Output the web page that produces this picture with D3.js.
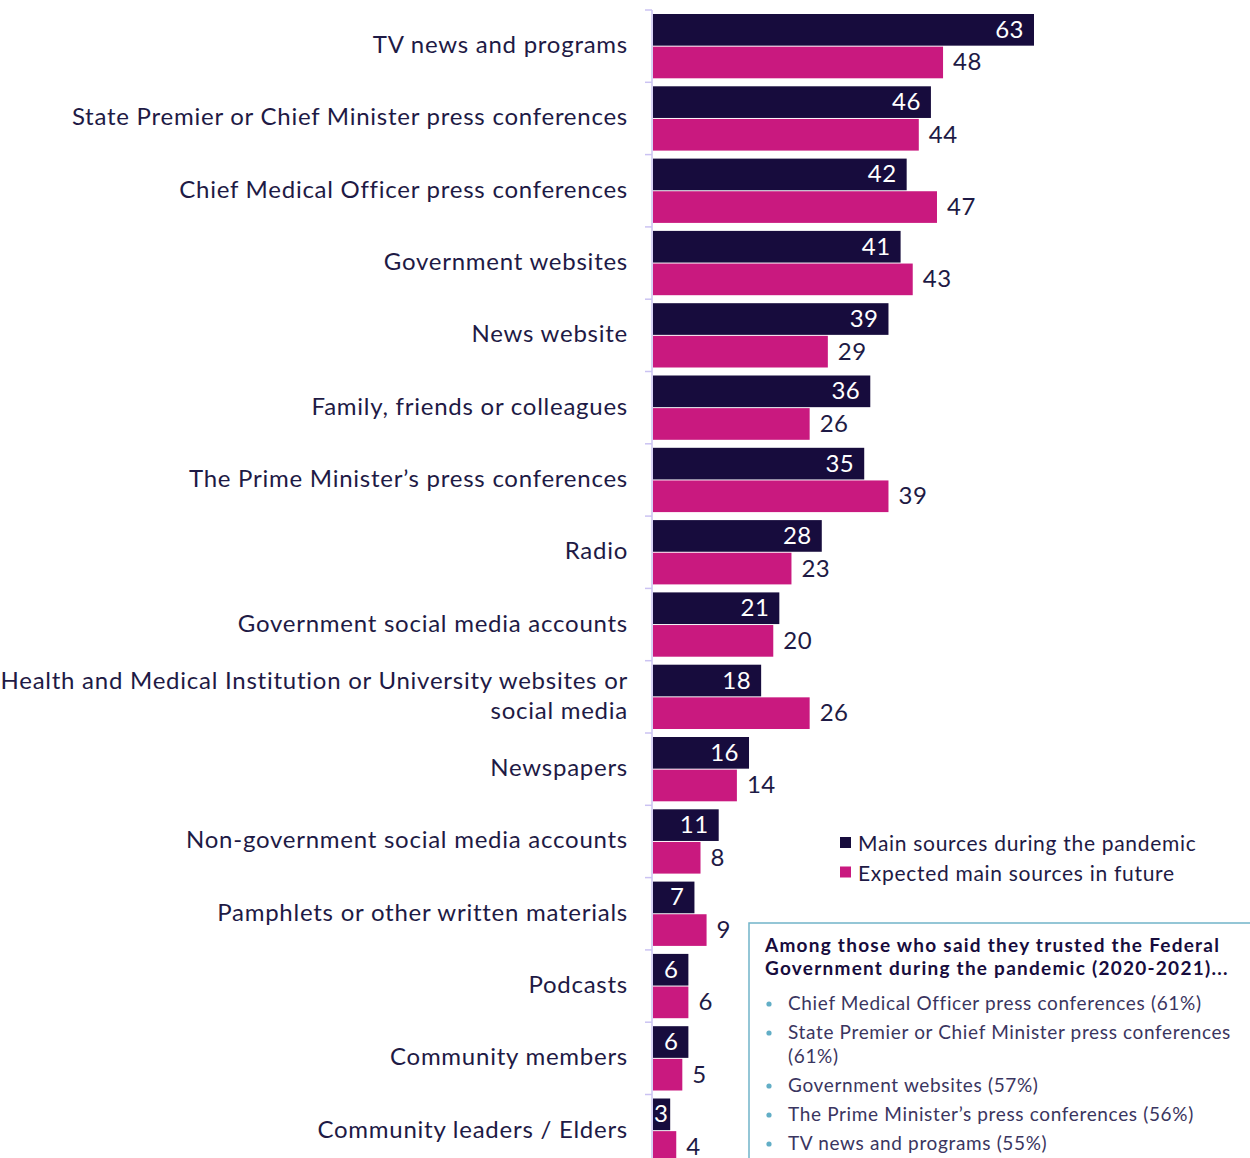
<!DOCTYPE html>
<html>
<head>
    <meta charset="utf-8">
    <title>Main sources of information</title>
    <script type="text/javascript" src="https://cdn.jsdelivr.net/npm/d3@7/dist/d3.min.js"></script>
    <style type="text/css">
        html, body { margin: 0; background: #fff; }
        svg { display: block; font-family: Lato, "Open Sans", sans-serif; }
    </style>
</head>
<body>
<script type="text/javascript">
    // data
    var categories = [
        ["TV news and programs"],
        ["State Premier or Chief Minister press conferences"],
        ["Chief Medical Officer press conferences"],
        ["Government websites"],
        ["News website"],
        ["Family, friends or colleagues"],
        ["The Prime Minister\u2019s press conferences"],
        ["Radio"],
        ["Government social media accounts"],
        ["Health and Medical Institution or University websites or", "social media"],
        ["Newspapers"],
        ["Non-government social media accounts"],
        ["Pamphlets or other written materials"],
        ["Podcasts"],
        ["Community members"],
        ["Community leaders / Elders"]
    ];
    var duringPandemic = [63, 46, 42, 41, 39, 36, 35, 28, 21, 18, 16, 11, 7, 6, 6, 3];
    var expectedFuture = [48, 44, 47, 43, 29, 26, 39, 23, 20, 26, 14, 8, 9, 6, 5, 4];
    var seriesNames = ["Main sources during the pandemic", "Expected main sources in future"];
    var boxTitle = ["Among those who said they trusted the Federal", "Government during the pandemic (2020-2021)..."];
    var boxItems = [
        ["Chief Medical Officer press conferences (61%)"],
        ["State Premier or Chief Minister press conferences", "(61%)"],
        ["Government websites (57%)"],
        ["The Prime Minister\u2019s press conferences (56%)"],
        ["TV news and programs (55%)"]
    ];

    var W = 1250, H = 1158;
    var dark = "#170c3d", pink = "#c9197f", ink = "#1e1a45";
    var axisX = 652, rowH = 72.3, chartTop = 10;

    var svg = d3.select("body").append("svg").attr("width", W).attr("height", H);

    var rows = categories.map(function (c, i) {
        return {label: c, vals: [duringPandemic[i], expectedFuture[i]], i: i};
    });

    var y = d3.scaleBand().domain(d3.range(categories.length))
        .range([chartTop, chartTop + rowH * categories.length]).paddingInner(0).paddingOuter(0);
    var ySub = d3.scaleBand().domain([0, 1]).range([4, rowH - 4]).paddingInner(0.03);
    var x = d3.scaleLinear().domain([0, 63]).range([axisX, 1034]);

    // axis line with group ticks
    var axis = svg.append("g").attr("transform", "translate(" + axisX + ",0)");
    axis.append("line").attr("x1", 0).attr("x2", 0).attr("y1", chartTop).attr("y2", H)
        .attr("stroke", "#cbc3f2").attr("stroke-width", 1.5);
    axis.selectAll("line.tk").data(d3.range(categories.length + 1)).enter().append("line")
        .attr("class", "tk")
        .attr("x1", -7).attr("x2", 0)
        .attr("y1", function (d) { return chartTop + d * rowH; })
        .attr("y2", function (d) { return chartTop + d * rowH; })
        .attr("stroke", "#cbc3f2").attr("stroke-width", 1.5);

    var g = svg.selectAll("g.row").data(rows).enter().append("g")
        .attr("class", "row")
        .attr("transform", function (d) { return "translate(0," + y(d.i) + ")"; });

    // category labels
    g.append("text")
        .attr("text-anchor", "end")
        .attr("fill", ink)
        .attr("font-size", 24)
        .attr("letter-spacing", 0.75)
        .each(function (d) {
            var t = d3.select(this), n = d.label.length;
            d.label.forEach(function (s, k) {
                t.append("tspan").attr("x", 628)
                    .attr("y", y.bandwidth() / 2 + (k - (n - 1) / 2) * 30 + 7)
                    .text(s);
            });
        });

    // bars
    g.selectAll("rect").data(function (d) { return d.vals; }).enter().append("rect")
        .attr("x", axisX + 1)
        .attr("y", function (d, k) { return ySub(k); })
        .attr("width", function (d) { return x(d) - axisX - 1; })
        .attr("height", ySub.bandwidth())
        .attr("fill", function (d, k) { return k === 0 ? dark : pink; });

    // value labels (dark bars: inside, right aligned; narrow bars: from the bar start)
    g.selectAll("text.val").data(function (d) { return d.vals; }).enter().append("text")
        .attr("class", "val")
        .attr("font-size", 24)
        .attr("letter-spacing", 0.5)
        .attr("x", function (d, k) {
            if (k === 1) return x(d) + 10;
            return x(d) - axisX < 30 ? axisX + 2 : x(d) - 10;
        })
        .attr("y", function (d, k) { return ySub(k) + ySub.bandwidth() / 2 + 8; })
        .attr("text-anchor", function (d, k) {
            return k === 0 && x(d) - axisX >= 30 ? "end" : "start";
        })
        .attr("fill", function (d, k) { return k === 0 ? "#fff" : ink; })
        .text(function (d) { return d; });

    // legend
    var leg = svg.append("g").attr("transform", "translate(840,843)");
    leg.selectAll("g").data(seriesNames).enter().append("g")
        .attr("transform", function (d, i) { return "translate(0," + i * 29.5 + ")"; })
        .each(function (d, i) {
            var s = d3.select(this);
            s.append("rect").attr("x", 0).attr("y", -6).attr("width", 11).attr("height", 11)
                .attr("fill", i === 0 ? dark : pink);
            s.append("text").attr("x", 18).attr("y", 8).attr("font-size", 21)
                .attr("letter-spacing", 0.7)
                .attr("fill", ink).text(d);
        });

    // note box
    var box = svg.append("g").attr("transform", "translate(749,923)");
    box.append("rect").attr("x", 0).attr("y", 0).attr("width", 520).attr("height", 260)
        .attr("fill", "#fff").attr("stroke", "#72b4c9").attr("stroke-width", 1.5);
    box.selectAll("text.ttl").data(boxTitle).enter().append("text")
        .attr("class", "ttl")
        .attr("x", 16).attr("y", function (d, i) { return 29 + i * 23; })
        .attr("font-size", 19).attr("font-weight", "bold").attr("fill", dark)
        .attr("letter-spacing", 1.25)
        .text(function (d) { return d; });

    var ly = 87;
    boxItems.forEach(function (lines) {
        box.append("circle").attr("cx", 20).attr("cy", ly - 6).attr("r", 2.6).attr("fill", "#62aec6");
        lines.forEach(function (s, k) {
            box.append("text").attr("x", 39).attr("y", ly + k * 24)
                .attr("font-size", 19).attr("fill", "#3a3560").attr("letter-spacing", 0.65)
                .text(s);
        });
        ly += 29 + (lines.length - 1) * 24;
    });
</script>
</body>
</html>
